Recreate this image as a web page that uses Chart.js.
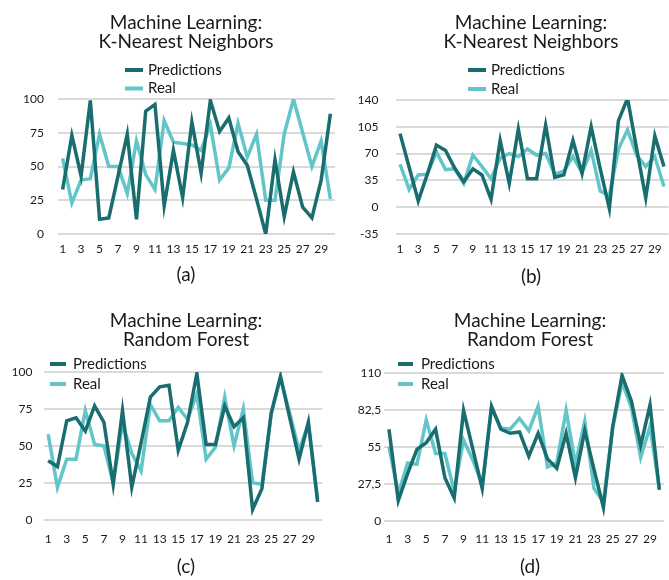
<!DOCTYPE html>
<html>
<head>
<meta charset="utf-8">
<script src="https://cdn.jsdelivr.net/npm/chart.js@4.4.1/dist/chart.umd.min.js"></script>
<style>
    html, body { margin: 0; padding: 0; background: #fff; }
    #figura { position: relative; width: 669px; height: 580px; overflow: hidden; }
    .painel { position: absolute; height: 290px; overflow: hidden; }
    .painel canvas { display: block; }
</style>
</head>
<body>
<div id="figura">
    <div class="painel" style="left:0;top:0;width:335px"><canvas id="graficoA" width="372" height="290"></canvas></div>
    <div class="painel" style="left:335px;top:0;width:334px"><canvas id="graficoB" width="392" height="290"></canvas></div>
    <div class="painel" style="left:0;top:290px;width:335px"><canvas id="graficoC" width="372" height="290"></canvas></div>
    <div class="painel" style="left:335px;top:290px;width:334px"><canvas id="graficoD" width="390" height="290"></canvas></div>
</div>
<script>
// dados
var rotulos = ['1', '2', '3', '4', '5', '6', '7', '8', '9', '10', '11', '12', '13', '14', '15',
    '16', '17', '18', '19', '20', '21', '22', '23', '24', '25', '26', '27', '28', '29', '30'];

var tituloKnn = ['Machine Learning:', 'K-Nearest Neighbors'];
var tituloRf = ['Machine Learning:', 'Random Forest'];
var nomesSeries = ['Predictions', 'Real'];

var previsoesA = [33, 73, 43, 99, 11, 12, 43, 74, 11, 91, 96, 21, 62, 27, 83, 45, 99, 76, 86, 61, 51, 26, 0, 55, 13, 46, 20, 12, 40, 89];
var reaisA = [56, 23, 40, 41, 74, 50, 50, 30, 69, 44, 33, 84, 68, 67, 66, 62, 81, 40, 49, 82, 57, 74, 25, 25, 74, 100, 75, 50, 69, 26];
var eixoYA = [0, 25, 50, 75, 100];

var previsoesB = [96, 52, 8, 43, 81, 74, 51, 33, 50, 42, 10, 87, 31, 102, 37, 37, 107, 39, 42, 87, 44, 105, 50, -2, 113, 142, 76, 12, 93, 53];
var reaisB = [56, 23, 42, 43, 72, 49, 50, 31, 68, 53, 37, 64, 70, 66, 76, 68, 70, 43, 47, 66, 45, 74, 21, 15, 76, 101, 68, 53, 66, 27];
var eixoYB = [-35, 0, 35, 70, 105, 140];

var previsoesC = [40, 36, 67, 69, 60, 77, 66, 24, 74, 22, 52, 83, 90, 91, 47, 66, 99, 51, 51, 77, 63, 69, 7, 21, 72, 97, 69, 41, 66, 12];
var reaisC = [58, 22, 41, 41, 74, 51, 50, 25, 65, 45, 33, 78, 67, 67, 76, 68, 85, 41, 49, 83, 50, 75, 25, 24, 72, 96, 72, 47, 65, 14];
var eixoYC = [0, 25, 50, 75, 100];

var previsoesD = [68, 15, 35, 53, 58, 68, 32, 17, 82, 53, 24, 85, 68, 65, 66, 48, 65, 46, 39, 65, 32, 67, 38, 10, 70, 108, 89, 56, 86, 23];
var reaisD = [55, 20, 43, 42, 75, 50, 50, 22, 60, 45, 27, 84, 69, 68, 76, 67, 85, 40, 43, 82, 42, 74, 24, 14, 69, 103, 84, 47, 70, 24];
var eixoYD = [0, 27.5, 55, 82.5, 110];

var corEscura = '#1a6d6e';
var corClara = '#62c5c8';
var corTexto = '#1a1a1a';

Chart.defaults.font.family = 'Lato';
Chart.defaults.color = corTexto;

// legenda empilhada (uma serie por linha)
var legendaPilha = {
    id: 'legendaPilha',
    afterDraw: function (chart, args, opts) {
        var ctx = chart.ctx;
        ctx.save();
        ctx.font = '15px Lato';
        ctx.textBaseline = 'middle';
        ctx.textAlign = 'left';
        chart.data.datasets.forEach(function (ds, i) {
            var y = opts.y + i * opts.linha;
            ctx.strokeStyle = ds.borderColor;
            ctx.lineWidth = 4;
            ctx.beginPath();
            ctx.moveTo(opts.x, y);
            ctx.lineTo(opts.x + opts.traco, y);
            ctx.stroke();
            ctx.fillStyle = corTexto;
            ctx.fillText(ds.label, opts.x + opts.traco + opts.espaco, y);
        });
        ctx.restore();
    }
};

function plotarGrafico(idCanvas, cfg) {
    var eixoY = cfg.eixoY;
    const dados = {
        labels: rotulos,
        datasets: [
            {
                label: nomesSeries[0],
                data: cfg.previsoes,
                borderColor: corEscura,
                backgroundColor: corEscura,
                borderWidth: 3.5,
                pointRadius: 0,
                tension: 0
            },
            {
                label: nomesSeries[1],
                data: cfg.reais,
                borderColor: corClara,
                backgroundColor: corClara,
                borderWidth: 3.5,
                pointRadius: 0,
                tension: 0
            }
        ]
    };

    const config = {
        type: 'line',
        data: dados,
        plugins: [legendaPilha],
        options: {
            responsive: false,
            animation: false,
            plugins: {
                legend: { display: false },
                tooltip: { enabled: false },
                title: {
                    display: true,
                    text: cfg.titulo,
                    font: { size: 19, weight: 'normal', lineHeight: 1 },
                    color: corTexto,
                    padding: cfg.padTitulo
                },
                subtitle: {
                    display: true,
                    position: 'bottom',
                    text: cfg.legenda,
                    font: { size: 19, weight: 'normal', lineHeight: 1.1 },
                    color: corTexto,
                    padding: cfg.padLegenda
                },
                legendaPilha: cfg.caixa
            },
            scales: {
                x: {
                    type: 'category',
                    offset: true,
                    grid: { display: false },
                    border: { display: false },
                    ticks: {
                        autoSkip: false,
                        maxRotation: 0,
                        padding: cfg.padX,
                        font: { size: 12 },
                        callback: function (valor, indice) {
                            return indice % 2 === 0 ? this.getLabelForValue(valor) : '';
                        }
                    }
                },
                y: {
                    min: eixoY[0],
                    max: eixoY[eixoY.length - 1],
                    grid: { color: '#dadada', lineWidth: 2, drawTicks: false },
                    border: { display: false },
                    ticks: {
                        stepSize: eixoY[1] - eixoY[0],
                        padding: cfg.padY,
                        font: { size: 12 },
                        callback: function (v) {
                            return String(v).replace('.', ',');
                        }
                    },
                    afterFit: function (s) { s.width = cfg.esquerda; }
                },
                espaco: {
                    type: 'linear',
                    position: 'right',
                    grid: { display: false },
                    border: { display: false },
                    ticks: { display: false },
                    afterFit: function (s) { s.width = cfg.direita; }
                }
            }
        }
    };

    return new Chart(document.getElementById(idCanvas), config);
}

plotarGrafico('graficoA', {
    titulo: tituloKnn, legenda: '(a)', previsoes: previsoesA, reais: reaisA, eixoY: eixoYA,
    esquerda: 58, direita: 37, padY: 14, padX: 0,
    padTitulo: { top: 13, bottom: 48 }, padLegenda: { top: 8.4, bottom: 4.2 },
    caixa: { x: 125, y: 70, linha: 18.5, traco: 18, espaco: 5 }
});

plotarGrafico('graficoB', {
    titulo: tituloKnn, legenda: '(b)', previsoes: previsoesB, reais: reaisB, eixoY: eixoYB,
    esquerda: 60.5, direita: 58.5, padY: 17, padX: 0,
    padTitulo: { top: 13, bottom: 49 }, padLegenda: { top: 10.7, bottom: 2.2 },
    caixa: { x: 133, y: 70, linha: 19, traco: 18, espaco: 5 }
});

plotarGrafico('graficoC', {
    titulo: tituloRf, legenda: '(c)', previsoes: previsoesC, reais: reaisC, eixoY: eixoYC,
    esquerda: 43.5, direita: 49.7, padY: 11, padX: 4,
    padTitulo: { top: 21, bottom: 23 }, padLegenda: { top: 6.7, bottom: 2.2 },
    caixa: { x: 50, y: 74, linha: 20, traco: 16, espaco: 7 }
});

plotarGrafico('graficoD', {
    titulo: tituloRf, legenda: '(d)', previsoes: previsoesD, reais: reaisD, eixoY: eixoYD,
    esquerda: 49.3, direita: 61, padY: 3, padX: 3,
    padTitulo: { top: 21, bottom: 23.7 }, padLegenda: { top: 7.7, bottom: 2.2 },
    caixa: { x: 63, y: 74, linha: 20, traco: 15, espaco: 8 }
});
</script>
</body>
</html>
